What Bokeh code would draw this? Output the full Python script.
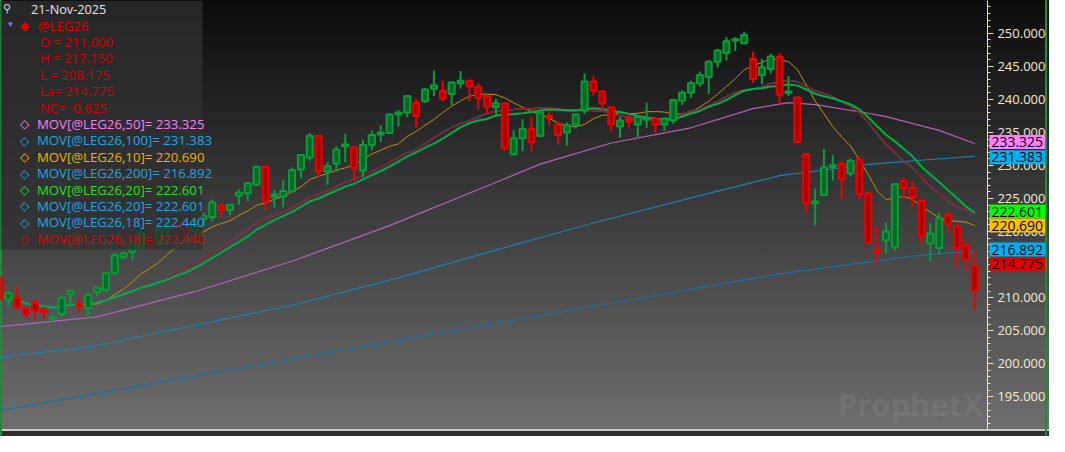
import numpy as np
import pandas as pd
from bokeh.plotting import figure
from bokeh.models import (Range1d, SingleIntervalTicker, NumeralTickFormatter,
                          ColumnDataSource, BoxAnnotation, Label)
from bokeh.embed import file_html
from bokeh.resources import INLINE

# ---------------- data ----------------
opens = [213.0, 209.7, 210.0, 208.4, 209.2, 208.1, 206.9, 207.5, 210.5, 208.9,
         208.4, 210.8, 211.2, 213.7, 216.1, 216.9, 217.6, 219.5, 218.2, 220.3,
         221.4, 221.3, 220.0, 221.9, 222.2, 223.9, 223.25, 225.4, 225.8, 227.1,
         229.75, 225.3, 225.3, 226.1, 229.4, 231.2, 234.5, 229.1, 230.25, 232.9,
         232.7, 229.2, 233.1, 234.7, 234.9, 237.7, 238.0, 239.5, 239.7, 241.6,
         241.3, 240.8, 242.45, 242.8, 241.9, 240.5, 238.8, 239.4, 231.7, 234.1,
         235.5, 234.5, 237.5, 236.2, 235.0, 236.2, 238.3, 242.7, 241.2, 238.8,
         235.9, 237.0, 236.2, 236.9, 237.05, 236.2, 236.8, 239.8, 241.0, 242.45,
         243.4, 245.7, 247.0, 248.9, 248.5, 246.1, 243.7, 244.6, 246.45, 240.95,
         240.3, 231.7, 224.3, 225.5, 229.75, 230.25, 228.8, 230.9, 225.8, 217.25,
         218.7, 217.7, 227.6, 226.6, 224.65, 218.2, 217.5, 222.45, 220.75, 217.9,
         211.0]
highs = [213.3, 211.0, 211.6, 208.7, 209.7, 208.6, 207.5, 210.2, 211.3, 210.1,
         210.8, 211.65, 213.8, 216.75, 217.0, 218.8, 220.2, 219.8, 220.8, 221.9,
         222.0, 221.6, 222.4, 222.9, 224.8, 224.3, 224.2, 226.4, 227.5, 230.0,
         229.9, 226.25, 227.8, 229.7, 231.7, 234.9, 234.6, 230.5, 232.9, 234.8,
         232.9, 233.9, 235.3, 236.1, 237.9, 238.4, 240.6, 240.1, 241.7, 244.4,
         242.8, 242.7, 244.3, 242.9, 242.4, 240.7, 240.1, 239.5, 235.3, 237.0,
         237.3, 238.3, 238.2, 236.7, 236.5, 237.9, 243.9, 243.5, 241.4, 238.9,
         237.4, 237.8, 237.6, 239.5, 237.3, 237.3, 240.1, 241.35, 242.8, 244.2,
         245.96, 247.66, 249.4, 249.4, 250.25, 247.2, 246.1, 246.9, 247.0, 243.5,
         240.4, 231.85, 226.5, 232.5, 231.6, 230.7, 231.0, 231.4, 225.9, 220.9,
         221.4, 227.3, 228.2, 227.5, 224.8, 221.3, 222.85, 223.1, 221.1, 218.9,
         217.15]
lows = [209.5, 208.7, 208.3, 206.9, 206.6, 206.8, 206.4, 207.3, 208.7, 207.7,
        206.9, 210.2, 210.8, 213.5, 215.8, 215.6, 217.3, 217.2, 217.8, 219.6,
        219.9, 219.5, 219.6, 220.9, 221.6, 222.2, 222.5, 224.0, 224.6, 226.8,
        223.25, 223.6, 223.7, 225.9, 228.05, 230.7, 228.3, 227.1, 229.1, 230.5,
        227.6, 228.2, 232.3, 233.55, 234.8, 235.9, 237.3, 235.7, 239.5, 240.5,
        239.7, 239.15, 241.6, 239.7, 238.5, 237.8, 237.7, 232.2, 231.5, 232.2,
        232.1, 234.3, 236.1, 233.2, 233.0, 235.6, 237.8, 240.6, 238.4, 235.2,
        234.2, 235.6, 234.3, 235.65, 235.0, 235.2, 236.3, 239.15, 240.2, 241.9,
        240.85, 244.85, 245.9, 247.3, 248.3, 242.45, 242.3, 243.9, 239.2, 240.5,
        233.45, 222.85, 220.9, 225.4, 227.7, 224.8, 228.3, 224.7, 218.1, 215.1,
        216.6, 217.1, 224.9, 223.7, 218.1, 215.4, 216.6, 219.8, 214.6, 213.95,
        208.175]
closes = [209.8, 210.7, 208.5, 207.5, 208.0, 207.8, 207.0, 210.0, 211.0, 208.7,
          210.4, 211.5, 213.7, 216.4, 216.7, 218.3, 219.8, 217.9, 220.4, 221.4,
          221.0, 219.9, 221.6, 222.4, 224.4, 223.3, 224.05, 225.9, 227.3, 229.8,
          224.55, 225.6, 226.1, 229.3, 231.6, 234.5, 229.1, 229.9, 232.4, 233.2,
          229.6, 233.1, 234.6, 235.0, 237.7, 238.0, 240.5, 237.5, 241.5, 242.1,
          240.1, 242.55, 242.8, 242.0, 240.2, 238.9, 239.4, 232.6, 234.1, 235.5,
          233.5, 238.0, 237.2, 234.6, 236.1, 237.7, 242.7, 241.3, 239.4, 236.2,
          236.8, 236.6, 237.35, 237.2, 236.2, 237.05, 239.9, 241.0, 242.45, 243.7,
          245.7, 247.4, 248.8, 249.1, 249.75, 243.1, 244.85, 246.5, 240.7, 241.2,
          233.55, 224.3, 224.55, 229.7, 230.05, 227.95, 230.7, 225.7, 218.3, 216.9,
          220.0, 227.2, 226.6, 225.2, 219.3, 219.7, 222.0, 221.1, 217.5, 215.8,
          214.775]

# long moving averages, read at sample bars
ma50_idx = [0, 11, 22, 33, 44, 55, 61, 69, 78, 85, 89, 92, 98, 100, 106, 110]
ma50_val = [205.6, 207.1, 210.9, 215.5, 220.9, 226.9, 230.2, 233.4, 235.7, 238.6,
            239.5, 239.2, 237.9, 237.4, 235.3, 233.325]
ma100_idx = [0, 10, 33, 45, 56, 67, 78, 88, 98, 105, 110]
ma100_val = [201.0, 202.5, 208.85, 213.0, 217.2, 221.3, 225.1, 228.45, 230.15,
             230.9, 231.383]
ma200_idx = [0, 44, 88, 99, 103, 108, 110]
ma200_val = [192.9, 203.3, 213.6, 215.55, 216.3, 216.85, 216.892]

# legend / header texts
date_text = "21-Nov-2025"
symbol = "@LEG26"
ohlc_lines = ["O = 211.000", "H = 217.150", "L = 208.175", "La= 214.775", "NC= -0.625"]
net_change_last = -0.625
mov_labels = ["MOV[@LEG26,50]= 233.325", "MOV[@LEG26,100]= 231.383",
              "MOV[@LEG26,10]= 220.690", "MOV[@LEG26,200]= 216.892",
              "MOV[@LEG26,20]= 222.601", "MOV[@LEG26,20]= 222.601",
              "MOV[@LEG26,18]= 222.440", "MOV[@LEG26,18]= 222.440"]
mov_colors = ["#f47ef4", "#1ea6e6", "#f0b000", "#1ea6e6",
              "#22e022", "#1ea6e6", "#1ea6e6", "#e00000"]
tag_values = [233.325, 231.383, 222.601, 220.690, 216.892, 214.775]
tag_texts = ["233.325", "231.383", "222.601", "220.690", "216.892", "214.775"]
tag_offsets = [0.22, -0.14, 0.42, 0.22, 0.38, 0.30]
tag_colors = ["#ff80ff", "#00b0f0", "#00ff00", "#ffc000", "#00b0f0", "#e00000"]

# ---------------- helpers (layout only: reference pixel -> data) ----------------
def dx(px):
    return (px + 1) / 9.0

def dy(py):
    return 250 - (py - 34) / 6.85

n = len(closes)
idx = np.arange(n)
o = np.array(opens); h = np.array(highs); l = np.array(lows); c = np.array(closes)
up = c >= o
up[-1] = net_change_last >= 0

RED_LINE, RED_FILL = "#ee0000", "#a80000"
GRN_LINE, GRN_FILL = "#0a9c3c", "#006b24"

src = ColumnDataSource(dict(
    x=idx, top=np.maximum(o, c), bottom=np.minimum(o, c), high=h, low=l,
    line=[GRN_LINE if u else RED_LINE for u in up],
    fill=[GRN_FILL if u else RED_FILL for u in up],
))

cs = pd.Series(closes)
ma10 = cs.rolling(10, min_periods=1).mean().values
ma18 = cs.rolling(18, min_periods=1).mean().values
ma20 = cs.rolling(20, min_periods=1).mean().values

W, H = 1049, 436
p = figure(width=W, height=H, output_backend="svg", toolbar_location=None,
           x_range=Range1d(dx(0), dx(1065)), y_range=Range1d(190.05, 254.96),
           x_axis_location=None, y_axis_location="right",
           min_border_left=0, min_border_top=0, min_border_bottom=7,
           min_border_right=0)
p.background_fill_alpha = 0
p.border_fill_alpha = 0
p.outline_line_color = None
p.grid.visible = False
p.styles = {
    "background": (
        "linear-gradient(to right, #1e8a3c 0px, #1e8a3c 2px, transparent 2px),"
        "linear-gradient(to left, transparent 2px, #1e8a3c 2px, #1e8a3c 4px, transparent 4px),"
        "linear-gradient(to bottom, #0b0b0b 0px, #6e6e6e 429px, #c8c8c8 429px, "
        "#c8c8c8 431px, #2e2e2e 431px, #2e2e2e 100%)"
    )
}

ax = p.yaxis[0]
ax.fixed_location = dx(1002)
ax.ticker = SingleIntervalTicker(interval=5, num_minor_ticks=5)
ax.formatter = NumeralTickFormatter(format="0.000")
ax.axis_line_color = "#f3e2a8"
ax.major_tick_line_color = "#f3e2a8"
ax.minor_tick_line_color = "#f3e2a8"
ax.major_tick_in = 0
ax.major_tick_out = 6
ax.minor_tick_in = 0
ax.minor_tick_out = 3
ax.major_label_standoff = 4
ax.major_label_text_color = "#f2ead2"
ax.major_label_text_font = "Open Sans"
ax.major_label_text_font_size = "13px"

# moving averages
p.line(ma200_idx, ma200_val, line_color="#1a70a6", line_width=1.2)
p.line(ma100_idx, ma100_val, line_color="#1a82b8", line_width=1.2)
p.line(ma50_idx, ma50_val, line_color="#b860b8", line_width=1.2)
p.line(idx, ma10, line_color="#c48e16", line_width=1.0)
p.line(idx, ma18, line_color="#1a8ad0", line_width=1.5)
p.line(idx, ma18, line_color="#b00000", line_width=1.1)
p.line(idx, ma20, line_color="#00b030", line_width=2.0)
p.line(idx, ma20, line_color="#1a90d8", line_width=1, line_dash="1 2")

# candles
p.segment(x0="x", y0="low", x1="x", y1="high", source=src, line_color="line", line_width=2)
p.vbar(x="x", top="top", bottom="bottom", width=0.68, source=src,
       fill_color="fill", line_color="line", line_width=2)

FONT = "Open Sans"

# watermark
p.add_layout(Label(x=dx(850), y=dy(418), text="ProphetX", text_font=FONT,
                   text_font_style="bold", text_font_size="31px", text_color="#9a9a9a",
                   text_alpha=0.2, text_baseline="alphabetic"))
p.add_layout(Label(x=dx(908), y=dy(427), text="powered by DTN", text_font=FONT,
                   text_font_size="8px", text_color="#9a9a9a", text_alpha=0.3,
                   text_baseline="alphabetic"))

# legend panel
p.add_layout(BoxAnnotation(left=dx(0), right=dx(205), top=254.96, bottom=dy(258),
                           fill_color="#303030", fill_alpha=0.75, line_color=None))

def lab(px, py, text, color, size="13.2px"):
    p.add_layout(Label(x=dx(px), y=dy(py), text=text, text_color=color,
                       text_font=FONT, text_font_size=size, text_baseline="middle",
                       text_align="left"))

lab(3, 7, "⚲", "#d0d0d0", "11px")
lab(31, 9, date_text, "#e6e6e6", "12.7px")
lab(6, 24, "▼", "#7878ff", "8px")
lab(20, 26, "◆", "#e00000", "12px")
lab(38, 26, symbol, "#e00000")
for k, t in enumerate(ohlc_lines):
    lab(40, 43 + 17 * k, t, "#d40000")
for k, (t, col) in enumerate(zip(mov_labels, mov_colors)):
    lab(20, 128 + 17 * k, "◇", col, "12px")
    lab(37, 128 + 17 * k, t, col)

# price tags on the axis
for v, t, off, col in zip(tag_values, tag_texts, tag_offsets, tag_colors):
    p.add_layout(Label(x=dx(1004), y=v + off, text=t, text_color="#000000",
                       text_font=FONT, text_font_size="14px", text_baseline="middle",
                       text_align="left", background_fill_color=col, padding=2))

open("out.html", "w").write(file_html(p, INLINE))
